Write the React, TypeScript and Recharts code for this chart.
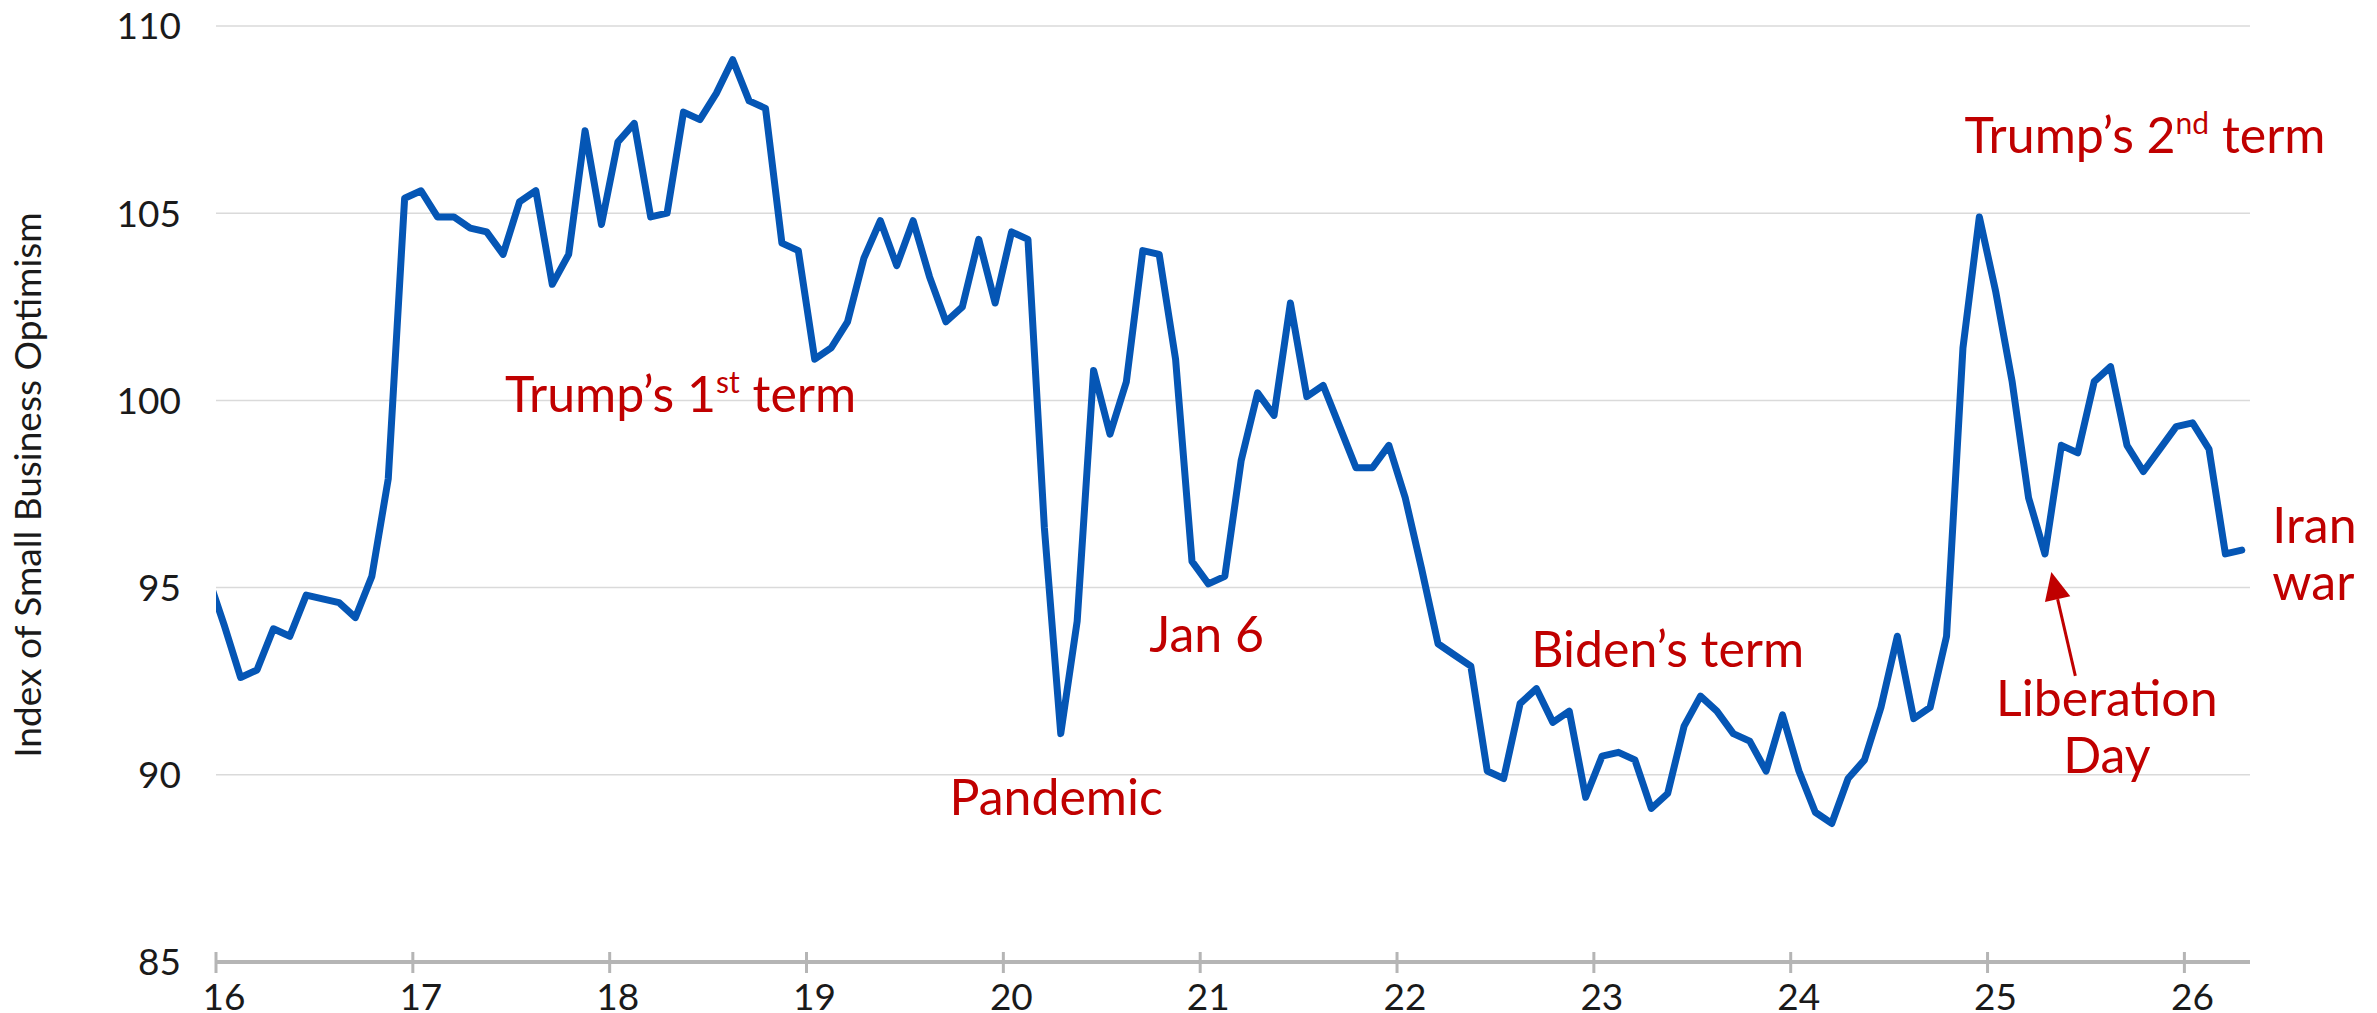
import {
  LineChart,
  Line,
  XAxis,
  YAxis,
  CartesianGrid,
  ReferenceDot,
  ReferenceLine,
} from 'recharts'

// ── Data: NFIB Small Business Optimism Index, monthly ─────────────────────────

const dec2015 = [95.3]
const y2016 = [94.0, 92.6, 92.8, 93.9, 93.7, 94.8, 94.7, 94.6, 94.2, 95.3, 97.9, 105.4]
const y2017 = [105.6, 104.9, 104.9, 104.6, 104.5, 103.9, 105.3, 105.6, 103.1, 103.9, 107.2, 104.7]
const y2018 = [106.9, 107.4, 104.9, 105.0, 107.7, 107.5, 108.2, 109.1, 108.0, 107.8, 104.2, 104.0]
const y2019 = [101.1, 101.4, 102.1, 103.8, 104.8, 103.6, 104.8, 103.3, 102.1, 102.5, 104.3, 102.6]
const y2020 = [104.5, 104.3, 96.6, 91.1, 94.1, 100.8, 99.1, 100.5, 104.0, 103.9, 101.1, 95.7]
const y2021 = [95.1, 95.3, 98.4, 100.2, 99.6, 102.6, 100.1, 100.4, 99.3, 98.2, 98.2, 98.8]
const y2022 = [97.4, 95.5, 93.5, 93.2, 92.9, 90.1, 89.9, 91.9, 92.3, 91.4, 91.7, 89.4]
const y2023 = [90.5, 90.6, 90.4, 89.1, 89.5, 91.3, 92.1, 91.7, 91.1, 90.9, 90.1, 91.6]
const y2024 = [90.1, 89.0, 88.7, 89.9, 90.4, 91.8, 93.7, 91.5, 91.8, 93.7, 101.4, 104.9]
const y2025 = [102.9, 100.5, 97.4, 95.9, 98.8, 98.6, 100.5, 100.9, 98.8, 98.1, 98.7, 99.3]
const y2026 = [99.4, 98.7, 95.9, 96.0]

const X_TICKS = [2016, 2017, 2018, 2019, 2020, 2021, 2022, 2023, 2024, 2025, 2026]
const Y_TICKS = [85, 90, 95, 100, 105, 110]
const X_END = 2026 + 4 / 12 // axis runs to the start of May 2026

const series: { year: number; firstMonth: number; values: number[] }[] = [
  { year: 2015, firstMonth: 11, values: dec2015 },
  { year: 2016, firstMonth: 0, values: y2016 },
  { year: 2017, firstMonth: 0, values: y2017 },
  { year: 2018, firstMonth: 0, values: y2018 },
  { year: 2019, firstMonth: 0, values: y2019 },
  { year: 2020, firstMonth: 0, values: y2020 },
  { year: 2021, firstMonth: 0, values: y2021 },
  { year: 2022, firstMonth: 0, values: y2022 },
  { year: 2023, firstMonth: 0, values: y2023 },
  { year: 2024, firstMonth: 0, values: y2024 },
  { year: 2025, firstMonth: 0, values: y2025 },
  { year: 2026, firstMonth: 0, values: y2026 },
]

// each reading sits in the middle of its month
const data = series.flatMap(({ year, firstMonth, values }) =>
  values.map((v, i) => ({ t: year + (firstMonth + i + 0.5) / 12, index: v })),
)

// ── Annotations (placed in chart units) ───────────────────────────────────────

type Part = [string, boolean] // [text, superscript]
interface Note {
  t: number
  v: number
  anchor: 'start' | 'middle'
  lines: Part[][]
}

const NOTES: Note[] = [
  { t: 2018.36, v: 99.69, anchor: 'middle', lines: [[['Trump’s 1', false], ['st', true], [' term', false]]] },
  { t: 2020.268, v: 88.93, anchor: 'middle', lines: [[['Pandemic', false]]] },
  { t: 2021.033, v: 93.28, anchor: 'middle', lines: [[['Jan 6', false]]] },
  { t: 2023.375, v: 92.88, anchor: 'middle', lines: [[['Biden’s term', false]]] },
  { t: 2025.8, v: 106.61, anchor: 'middle', lines: [[['Trump’s 2', false], ['nd', true], [' term', false]]] },
  { t: 2025.606, v: 91.57, anchor: 'middle', lines: [[['Liberation', false]], [['Day', false]]] },
  { t: 2026.447, v: 96.19, anchor: 'start', lines: [[['Iran', false]], [['war', false]]] },
]

const ARROW_TAIL = { x: 2025.446, y: 92.64 }
const ARROW_TIP = { x: 2025.324, y: 95.42 }

// ── Styling ───────────────────────────────────────────────────────────────────

const FONT = 'Lato, "Open Sans", sans-serif'
const BLUE = '#0556b5'
const RED = '#c00000'
const AXIS_GRAY = '#b5b5b5'
const GRID_GRAY = '#dadada'
const INK = '#1a1a1a'

const NOTE_SIZE = 50
const SUP_SIZE = 30
const SUP_RISE = 19
const LINE_GAP = 57

// ── Pieces ────────────────────────────────────────────────────────────────────

// eslint-disable-next-line @typescript-eslint/no-explicit-any
function XTick({ x, y, payload }: any) {
  return (
    <g>
      <line x1={x} x2={x} y1={y - 10} y2={y + 11} stroke={AXIS_GRAY} strokeWidth={3} />
      <text x={x + 8} y={y + 48} textAnchor="middle" fontSize={37} fill={INK} fontFamily={FONT}>
        {payload.value - 2000}
      </text>
    </g>
  )
}

// eslint-disable-next-line @typescript-eslint/no-explicit-any
function YTick({ x, y, payload }: any) {
  return (
    <text x={x} y={y} dy="0.36em" textAnchor="end" fontSize={37} fill={INK} fontFamily={FONT}>
      {payload.value}
    </text>
  )
}

// eslint-disable-next-line @typescript-eslint/no-explicit-any
function YTitle(props: any) {
  const vb = props.viewBox ?? { x: 0, y: 26, width: 216, height: 936 }
  const cx = vb.x + 41
  const cy = vb.y + vb.height / 2 - 9
  return (
    <text
      x={cx}
      y={cy}
      transform={`rotate(-90 ${cx} ${cy})`}
      textAnchor="middle"
      fontSize={37}
      fill={INK}
      fontFamily={FONT}
    >
      Index of Small Business Optimism
    </text>
  )
}

// one <text> per line so the superscript shifts stay local to the line
function NoteText({ cx, cy, note }: { cx: number; cy: number; note: Note }) {
  return (
    <g>
      {note.lines.map((line, li) => (
        <text
          key={li}
          x={cx}
          y={cy + li * LINE_GAP}
          textAnchor={note.anchor}
          fontSize={NOTE_SIZE}
          fill={RED}
          fontFamily={FONT}
        >
          {line.map(([txt, sup], pi) => {
            const afterSup = pi > 0 && line[pi - 1][1]
            if (sup) {
              return (
                <tspan key={pi} fontSize={SUP_SIZE} dy={-SUP_RISE}>
                  {txt}
                </tspan>
              )
            }
            return afterSup ? (
              <tspan key={pi} dy={SUP_RISE}>
                {txt}
              </tspan>
            ) : (
              <tspan key={pi}>{txt}</tspan>
            )
          })}
        </text>
      ))}
    </g>
  )
}

// eslint-disable-next-line @typescript-eslint/no-explicit-any
function Arrow(props: any) {
  const { x1, y1, x2, y2 } = props
  const dx = x2 - x1
  const dy = y2 - y1
  const len = Math.hypot(dx, dy)
  const ux = dx / len
  const uy = dy / len
  const head = 28
  const half = 13
  const bx = x2 - ux * head
  const by = y2 - uy * head
  return (
    <g>
      <line x1={x1} y1={y1} x2={bx} y2={by} stroke={RED} strokeWidth={3} />
      <polygon
        points={`${x2},${y2} ${bx - uy * half},${by + ux * half} ${bx + uy * half},${by - ux * half}`}
        fill={RED}
      />
    </g>
  )
}

// ── Chart ─────────────────────────────────────────────────────────────────────

export default function App() {
  return (
    <div style={{ position: 'absolute', left: 0, top: 0, width: 2377, height: 1013, background: '#fff' }}>
      <LineChart
        width={2377}
        height={1013}
        data={data}
        margin={{ top: 26, right: 127, bottom: 0, left: 0 }}
        style={{ fontFamily: FONT }}
      >
        <CartesianGrid vertical={false} stroke={GRID_GRAY} strokeWidth={1.5} />

        <XAxis
          type="number"
          dataKey="t"
          domain={[2016, X_END]}
          ticks={X_TICKS}
          interval={0}
          allowDataOverflow
          height={51}
          axisLine={{ stroke: AXIS_GRAY, strokeWidth: 4 }}
          tickLine={false}
          tickSize={0}
          tickMargin={0}
          tick={<XTick />}
        />

        <YAxis
          type="number"
          domain={[85, 110]}
          ticks={Y_TICKS}
          interval={0}
          width={216}
          axisLine={false}
          tickLine={false}
          tickSize={0}
          tickMargin={35}
          tick={<YTick />}
          label={{ content: (p: unknown) => <YTitle {...(p as object)} /> }}
        />

        <Line
          type="linear"
          dataKey="index"
          stroke={BLUE}
          strokeWidth={7}
          strokeLinejoin="round"
          strokeLinecap="round"
          dot={false}
          activeDot={false}
          isAnimationActive={false}
        />

        <ReferenceLine
          segment={[ARROW_TAIL, ARROW_TIP]}
          ifOverflow="visible"
          shape={(p: unknown) => <Arrow {...(p as object)} />}
        />

        {NOTES.map((n, i) => (
          <ReferenceDot
            key={i}
            x={n.t}
            y={n.v}
            r={0}
            ifOverflow="visible"
            // eslint-disable-next-line @typescript-eslint/no-explicit-any
            shape={(p: any) => <NoteText cx={p.cx} cy={p.cy} note={n} />}
          />
        ))}
      </LineChart>
    </div>
  )
}
